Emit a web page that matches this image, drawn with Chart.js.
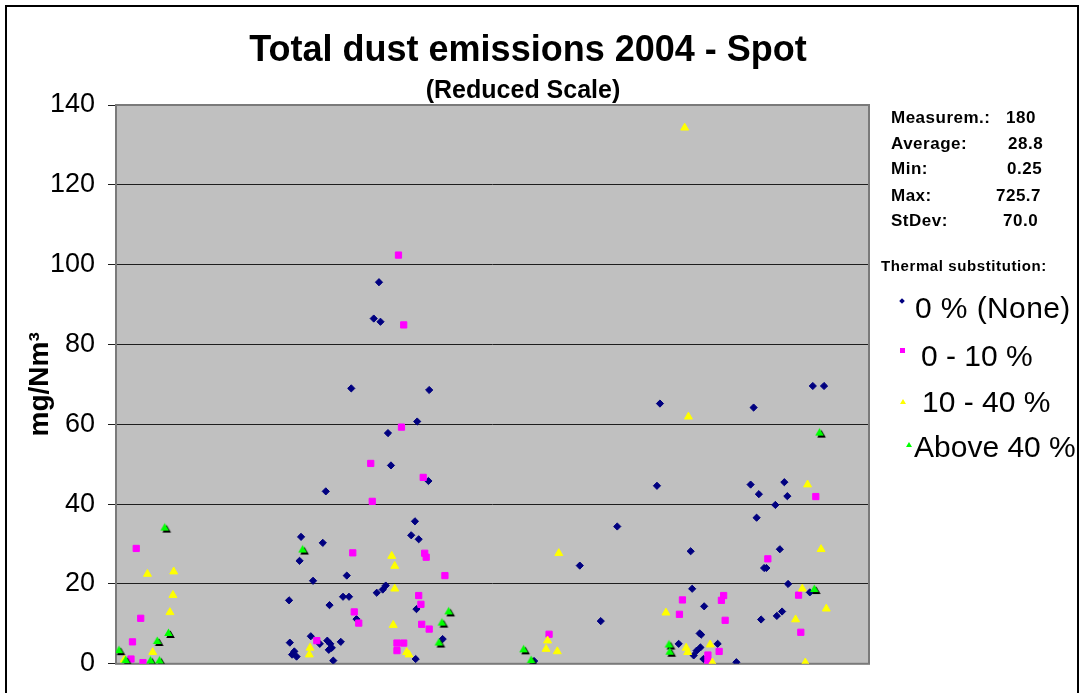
<!DOCTYPE html>
<html>
<head>
<meta charset="utf-8">
<script src="https://cdn.jsdelivr.net/npm/chart.js@4.4.1/dist/chart.umd.min.js"></script>
<style>
    html, body { margin: 0; padding: 0; background: #fff; overflow: hidden; }
    #wrap { position: relative; width: 1080px; height: 693px; font-family: "Liberation Sans", Arial, sans-serif; color: #000; }
    #chart { position: absolute; left: 0; top: 0; }
    .frame { position: absolute; left: 5px; top: 5px; width: 1070px; height: 700px; border: 2px solid #000; pointer-events: none; }
    .c { position: absolute; white-space: nowrap; line-height: 1; transform: translate(-50%, -50%); font-weight: bold; }
    .r { position: absolute; white-space: nowrap; line-height: 1; transform: translateY(-50%); }
    .stat { font-size: 17px; font-weight: bold; letter-spacing: 0.5px; }
    .leg { font-size: 30px; }
    .mk { position: absolute; }
</style>
</head>
<body>
<div id="wrap">
    <canvas id="chart" width="1080" height="693"></canvas>
    <div class="frame"></div>

    <div class="c" style="left:528px; top:49px; font-size:36px;">Total dust emissions 2004 - Spot</div>
    <div class="c" style="left:523px; top:89px; font-size:25px;">(Reduced Scale)</div>

    <div class="r stat" style="left:891px; top:117px;">Measurem.:</div>
    <div class="r stat" style="left:1006px; top:117px;">180</div>
    <div class="r stat" style="left:891px; top:143px;">Average:</div>
    <div class="r stat" style="left:1008px; top:143px;">28.8</div>
    <div class="r stat" style="left:891px; top:168px;">Min:</div>
    <div class="r stat" style="left:1007px; top:168px;">0.25</div>
    <div class="r stat" style="left:891px; top:195px;">Max:</div>
    <div class="r stat" style="left:996px; top:195px;">725.7</div>
    <div class="r stat" style="left:891px; top:220px;">StDev:</div>
    <div class="r stat" style="left:1003px; top:220px;">70.0</div>

    <div class="r" style="left:881px; top:265px; font-size:15px; font-weight:bold; letter-spacing:0.6px;">Thermal substitution:</div>

    <div class="mk" style="left:900px; top:299px; width:4px; height:4px; background:#000080; transform:rotate(45deg);"></div>
    <div class="r leg" style="left:915px; top:308px; letter-spacing:0.4px;">0 % (None)</div>
    <div class="mk" style="left:900px; top:348px; width:5px; height:5px; background:#ff00ff;"></div>
    <div class="r leg" style="left:921px; top:356px;">0 - 10 %</div>
    <div class="mk" style="left:900px; top:399px; width:0; height:0; border-left:3px solid transparent; border-right:3px solid transparent; border-bottom:5px solid #ffff00;"></div>
    <div class="r leg" style="left:922px; top:402px;">10 - 40 %</div>
    <div class="mk" style="left:906px; top:442px; width:0; height:0; border-left:3px solid transparent; border-right:3px solid transparent; border-bottom:5px solid #00ff00;"></div>
    <div class="r leg" style="left:914px; top:447px;">Above 40 %</div>
</div>
<script>
// x = position along the measurement axis, y = mg/Nm3
const noneX = [23.1, 23.2, 23.5, 23.8, 24.1, 24.5, 24.7, 26.0, 26.3, 27.2, 27.6, 28.0, 28.2, 28.4, 28.5, 28.6, 28.8, 29.0,
    30.0, 30.3, 30.8, 31.1, 31.4, 32.1, 34.4, 34.8, 35.1, 35.3, 35.6, 36.0, 36.3, 36.7, 39.4, 39.9, 40.0, 40.1, 40.2, 40.4,
    41.7, 41.8, 43.6, 55.8, 61.9, 64.7, 66.9, 72.2, 72.6, 75.1, 76.7, 76.9, 77.1, 77.5, 77.9, 78.0, 78.1, 78.4, 78.5, 80.3,
    82.8, 84.7, 85.1, 85.5, 85.8, 86.1, 86.5, 86.8, 88.0, 88.2, 88.6, 88.9, 89.2, 89.6, 89.7, 92.6, 93.0, 94.5];
const noneY = [15.9, 5.3, 2.3, 3.1, 1.8, 25.8, 31.8, 6.9, 20.8, 5.0, 30.3, 43.2, 5.8, 3.5, 14.7, 5.0, 4.0, 0.8,
    5.5, 16.8, 22.1, 16.8, 69.0, 11.2, 86.5, 17.8, 95.6, 85.7, 18.6, 19.6, 57.8, 49.7, 32.2, 35.7, 1.2, 13.7, 60.7, 31.2,
    45.8, 68.6, 6.2, 0.7, 24.6, 10.7, 34.4, 44.6, 65.2, 5.0, 28.2, 18.8, 2.1, 3.3, 7.6, 4.1, 7.3, 1.2, 14.4, 5.0,
    0.4, 44.9, 64.2, 36.6, 42.5, 11.1, 24.0, 24.0, 39.8, 12.0, 28.7, 13.1, 45.5, 42.0, 20.0, 17.9, 69.6, 69.6];

const lowX = [2.0, 2.2, 2.7, 3.3, 3.6, 26.8, 31.8, 32.4, 34.0, 34.2, 31.6, 37.5, 37.5, 37.7, 38.1, 38.4, 38.4,
    40.4, 40.7, 40.8, 41.0, 41.2, 41.4, 41.8, 43.9, 57.8, 75.2, 75.6, 79.0, 79.0, 80.5, 80.8, 81.1, 81.3, 87.0,
    91.1, 91.4, 93.4];
const lowY = [1.2, 5.5, 28.9, 11.4, 0.3, 5.8, 13.0, 10.2, 50.2, 40.7, 27.8, 5.2, 3.3, 102.4, 59.3, 84.9, 5.2,
    17.1, 14.9, 9.9, 46.7, 27.7, 26.7, 8.7, 22.1, 7.4, 12.4, 16.0, 2.2, 0.6, 3.1, 15.9, 17.1, 10.9, 26.3,
    17.2, 7.9, 41.9];

const midX = [1.1, 4.2, 4.9, 7.2, 7.6, 7.7, 25.8, 25.9, 36.8, 37.0, 37.2, 37.2, 38.8, 39.1, 57.4, 57.6, 58.9, 59.1,
    73.4, 75.9, 76.1, 76.3, 76.4, 79.3, 79.6, 90.7, 91.6, 92.0, 92.3, 94.1, 94.8];
const midY = [1.0, 22.5, 2.9, 12.9, 17.2, 23.1, 2.3, 4.0, 27.0, 9.7, 24.5, 18.8, 2.9, 2.3, 3.7, 5.8, 3.1, 27.7,
    12.8, 134.3, 4.0, 2.9, 61.9, 4.8, 0.3, 11.1, 18.8, 0.3, 44.9, 28.7, 13.8];

const highX = [0.4, 1.3, 4.6, 5.5, 5.8, 6.5, 7.0, 24.9, 43.1, 43.5, 44.4, 54.4, 55.4, 73.8, 73.9, 93.2, 93.9];
const highY = [3.3, 0.8, 0.7, 5.6, 0.7, 34.0, 7.6, 28.5, 5.2, 10.2, 13.0, 3.5, 0.8, 4.7, 2.9, 18.6, 57.8];

const yTicks = [0, 20, 40, 60, 80, 100, 120, 140];

function toPoints(xs, ys) {
    return xs.map((x, i) => ({ x: x, y: ys[i] }));
}

// green triangle with a black drop shadow, used as point style
function shadowTriangle(color) {
    const c = document.createElement("canvas");
    c.width = 15;
    c.height = 15;
    const g = c.getContext("2d");
    const tri = (cx, cy, fill) => {
        const r = 5;
        g.beginPath();
        g.moveTo(cx, cy - r);
        g.lineTo(cx + r * 0.866, cy + r * 0.5);
        g.lineTo(cx - r * 0.866, cy + r * 0.5);
        g.closePath();
        g.fillStyle = fill;
        g.fill();
    };
    tri(9.5, 9.5, "#000000");
    tri(7.5, 7.5, color);
    return c;
}

const plotArea = {
    id: "plotArea",
    beforeDraw(chart) {
        const { ctx, chartArea: a } = chart;
        ctx.save();
        ctx.fillStyle = "#c0c0c0";
        ctx.fillRect(a.left, a.top, a.right - a.left, a.bottom - a.top);
        ctx.restore();
    },
    beforeDatasetsDraw(chart) {
        const { ctx, chartArea: a } = chart;
        ctx.save();
        ctx.strokeStyle = "#7a7a7a";
        ctx.lineWidth = 2;
        ctx.strokeRect(a.left, a.top, a.right - a.left, a.bottom - a.top);
        ctx.restore();
    },
};

new Chart(document.getElementById("chart"), {
    type: "scatter",
    data: {
        datasets: [
            {
                label: "0 % (None)",
                data: toPoints(noneX, noneY),
                pointStyle: "rectRot",
                pointRadius: 3.6,
                borderWidth: 1,
                backgroundColor: "#000080",
                borderColor: "#000080",
                order: 4,
            },
            {
                label: "0 - 10 %",
                data: toPoints(lowX, lowY),
                pointStyle: "rect",
                pointRadius: 4.4,
                borderWidth: 1,
                backgroundColor: "#ff00ff",
                borderColor: "#ff00ff",
                order: 3,
            },
            {
                label: "10 - 40 %",
                data: toPoints(midX, midY),
                pointStyle: "triangle",
                pointRadius: 4.6,
                borderWidth: 1,
                backgroundColor: "#ffff00",
                borderColor: "#ffff00",
                order: 2,
            },
            {
                label: "Above 40 %",
                data: toPoints(highX, highY),
                pointStyle: shadowTriangle("#00ff00"),
                order: 1,
            },
        ],
    },
    options: {
        responsive: false,
        animation: false,
        events: [],
        layout: { padding: { top: 105, right: 211, left: 0, bottom: 0 } },
        plugins: {
            legend: { display: false },
            title: { display: false },
            tooltip: { enabled: false },
        },
        scales: {
            x: {
                type: "linear",
                min: 0,
                max: 100.5,
                ticks: { display: false },
                grid: { display: false },
                border: { display: false },
                afterFit: (scale) => { scale.height = 23; },
            },
            y: {
                min: 0,
                max: 140,
                afterBuildTicks: (scale) => { scale.ticks = yTicks.map((v) => ({ value: v })); },
                ticks: {
                    color: "#000",
                    padding: 13,
                    font: { family: "Liberation Sans", size: 27 },
                },
                grid: { color: "#1e1e1e", lineWidth: 1, tickLength: 8 },
                border: { display: false },
                title: {
                    display: true,
                    text: "mg/Nm³",
                    color: "#000",
                    padding: { top: 23, bottom: 0 },
                    font: { family: "Liberation Sans", size: 28, weight: "bold" },
                },
                afterFit: (scale) => { scale.width = 116; },
            },
        },
    },
    plugins: [plotArea],
});
</script>
</body>
</html>
